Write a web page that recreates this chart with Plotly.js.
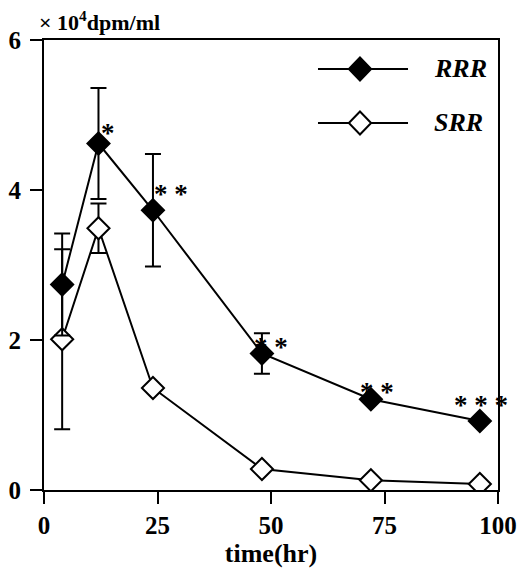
<!DOCTYPE html>
<html>
<head>
<meta charset="utf-8">
<script src="https://cdn.plot.ly/plotly-3.0.1.min.js"></script>
<style>html,body{margin:0;padding:0;background:#fff;}#chart{width:521px;height:583px;}</style>
</head>
<body>
<div id="chart"></div>
<script>
// Data
var timeHr = [4, 12, 24, 48, 72, 96];
var rrrValues = [2.74, 4.62, 3.73, 1.82, 1.21, 0.92];
var rrrErrors = [0.68, 0.74, 0.75, 0.27, 0, 0];
var srrValues = [2.01, 3.49, 1.36, 0.28, 0.13, 0.08];
var srrErrors = [1.2, 0.33, 0, 0, 0, 0];
var signifMarks = ["*", "* *", "* *", "* *", "* * *"];
var signifTimes = [12, 24, 48, 72, 96];
var signifValues = [4.62, 3.73, 1.82, 1.21, 0.92];
var xTicks = [0, 25, 50, 75, 100];
var yTicks = [0, 2, 4, 6];
var seriesNames = ["RRR", "SRR"];

var serif = "Liberation Serif, Times New Roman, serif";

var traces = [
  {
    x: timeHr, y: srrValues, name: seriesNames[1], type: "scatter", mode: "lines+markers",
    line: {color: "#000", width: 2},
    marker: {symbol: "diamond", size: 17, color: "#fff", line: {color: "#000", width: 2}},
    error_y: {type: "data", array: srrErrors, visible: true, color: "#000", thickness: 2, width: 8},
    showlegend: false
  },
  {
    x: timeHr, y: rrrValues, name: seriesNames[0], type: "scatter", mode: "lines+markers",
    line: {color: "#000", width: 2},
    marker: {symbol: "diamond", size: 17, color: "#000", line: {color: "#000", width: 2}},
    error_y: {type: "data", array: rrrErrors, visible: true, color: "#000", thickness: 2, width: 8},
    showlegend: false
  }
];

var sigShifts = [[10, 11], [18, 16], [9, 7], [6, 7], [1, 16]];
var annotations = signifMarks.map(function (t, i) {
  return {
    x: signifTimes[i], y: signifValues[i], xref: "x", yref: "y", text: "<b>" + t + "</b>", showarrow: false,
    xshift: sigShifts[i][0], yshift: sigShifts[i][1],
    font: {family: serif, size: 27, color: "#000"}
  };
});

// y-axis unit label
annotations.push({
  xref: "paper", yref: "paper", x: -0.015, y: 1.0, xanchor: "left", yanchor: "bottom", yshift: 3,
  text: "<b>× 10<sup>4</sup>dpm/ml</b>", showarrow: false,
  font: {family: serif, size: 22, color: "#000"}
});

// legend (drawn as layout decoration)
var legY = [0.9356, 0.8156];
var shapes = [];
var fills = ["#000", "#fff"];
for (var k = 0; k < 2; k++) {
  shapes.push({type: "line", xref: "paper", yref: "paper", x0: 0.6035, x1: 0.8018, y0: legY[k], y1: legY[k],
    line: {color: "#000", width: 2}});
  var cx = 0.696, cy = legY[k], dx = 0.0245, dy = 0.0255;
  shapes.push({type: "path", xref: "paper", yref: "paper",
    path: "M " + (cx - dx) + " " + cy + " L " + cx + " " + (cy + dy) + " L " + (cx + dx) + " " + cy + " L " + cx + " " + (cy - dy) + " Z",
    fillcolor: fills[k], line: {color: "#000", width: 2}});
  annotations.push({xref: "paper", yref: "paper", x: 0.855, y: legY[k], xanchor: "left", yanchor: "middle",
    text: "<b><i>" + seriesNames[k] + "</i></b>", showarrow: false,
    font: {family: serif, size: 26, color: "#000"}});
}

var layout = {
  width: 521, height: 583,
  margin: {l: 44, r: 23, t: 40, b: 93},
  paper_bgcolor: "#fff", plot_bgcolor: "#fff",
  showlegend: false,
  xaxis: {
    range: [0, 100], tickmode: "array", tickvals: xTicks, ticktext: xTicks.map(String),
    showgrid: false, zeroline: false, showline: true, mirror: true, linecolor: "#000", linewidth: 2,
    ticks: "outside", ticklen: 12, tickwidth: 2, tickcolor: "#000", ticklabelstandoff: 0,
    tickfont: {family: serif, size: 25, color: "#000", weight: 700},
    title: {text: "<b>time(hr)</b>", font: {family: serif, size: 26, color: "#000"}, standoff: 6}
  },
  yaxis: {
    range: [0, 6], tickmode: "array", tickvals: yTicks, ticktext: yTicks.map(String),
    showgrid: false, zeroline: false, showline: true, mirror: true, linecolor: "#000", linewidth: 2,
    ticks: "outside", ticklen: 12, tickwidth: 2, tickcolor: "#000", ticklabelstandoff: 4,
    tickfont: {family: serif, size: 25, color: "#000", weight: 700}
  },
  annotations: annotations,
  shapes: shapes
};

Plotly.newPlot("chart", traces, layout, {displayModeBar: false, staticPlot: true});
</script>
</body>
</html>
